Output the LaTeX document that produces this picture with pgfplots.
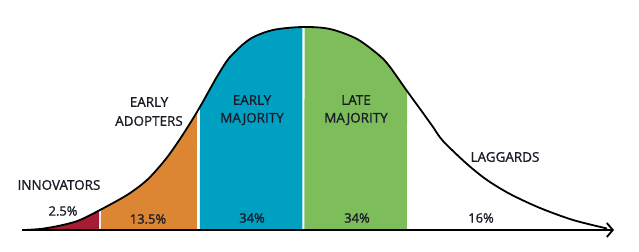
\documentclass[border=0pt]{standalone}
\usepackage{pgfplots}
\pgfplotsset{compat=1.18}
\usepgfplotslibrary{fillbetween}
\usetikzlibrary{arrows.meta}
\usepackage{fontspec}
\setmainfont{Open Sans}
\newfontfamily\lab[FakeBold=1.2]{Open Sans}
\definecolor{innov}{HTML}{A51C34}
\definecolor{early}{HTML}{DC8633}
\definecolor{emaj}{HTML}{00A0C3}
\definecolor{lmaj}{HTML}{7DBE5A}
\definecolor{txt}{HTML}{1A1A28}
\begin{document}
\begin{tikzpicture}
\begin{axis}[width=639bp,height=252bp,scale only axis,
  xmin=0,xmax=639,ymin=0,ymax=252,hide axis,clip=false]
\addplot[draw=none] coordinates {(0,0) (639,252)};
\addplot[name path=curve, draw=none, smooth] coordinates {
(25,22) (40,23) (53,25) (67,28) (80,32) (100,42) (127,57) (147,72) (165,92)
(180,113) (197,140) (210,163) (218,177) (230,195) (250,213) (273,222) (303,225)
(330,223) (357,213) (380,196) (390,185) (407,161) (423,139) (433,125) (443,111)
(467,88) (487,72) (510,58) (540,44) (573,32) (607,23.5)};
\addplot[name path=base, draw=none] coordinates {(20,22) (615,22)};
\addplot[innov] fill between[of=curve and base, soft clip={domain=25:99}];
\addplot[early] fill between[of=curve and base, soft clip={domain=101:197}];
\addplot[emaj] fill between[of=curve and base, soft clip={domain=200:302.3}];
\addplot[lmaj] fill between[of=curve and base, soft clip={domain=304.5:407}];
\addplot[black, line width=1.8bp, smooth] coordinates {
(25,22) (40,23) (53,25) (67,28) (80,32) (100,42) (127,57) (147,72) (165,92)
(180,113) (197,140) (210,163) (218,177) (230,195) (250,213) (273,222) (303,225)
(330,223) (357,213) (380,196) (390,185) (407,161) (423,139) (433,125) (443,111)
(467,88) (487,72) (510,58) (540,44) (573,32) (607,23.5)};
\addplot[black, line width=2.8bp, -{Straight Barb[length=6bp,width=14bp,line width=1.8bp]}] coordinates {(22,22) (614,22)};
\begin{scope}[every node/.style={text=txt, font=\lab\fontsize{13.5}{14}\selectfont, align=center, inner sep=0pt}]
\node at (axis cs:59,67) {INNOVATORS};
\node at (axis cs:149,150) {EARLY};
\node at (axis cs:149,131) {ADOPTERS};
\node at (axis cs:252,152) {EARLY};
\node at (axis cs:252,133) {MAJORITY};
\node at (axis cs:356,152) {LATE};
\node at (axis cs:356,133) {MAJORITY};
\node at (axis cs:505,95) {LAGGARDS};
\end{scope}
\begin{scope}[every node/.style={text=txt, font=\lab\fontsize{13}{14}\selectfont, inner sep=0pt}]
\node at (axis cs:63,41) {2.5\%};
\node at (axis cs:148,33) {13.5\%};
\node at (axis cs:252,34) {34\%};
\node at (axis cs:357,34) {34\%};
\node at (axis cs:481,34) {16\%};
\end{scope}
\end{axis}
\end{tikzpicture}
\end{document}
